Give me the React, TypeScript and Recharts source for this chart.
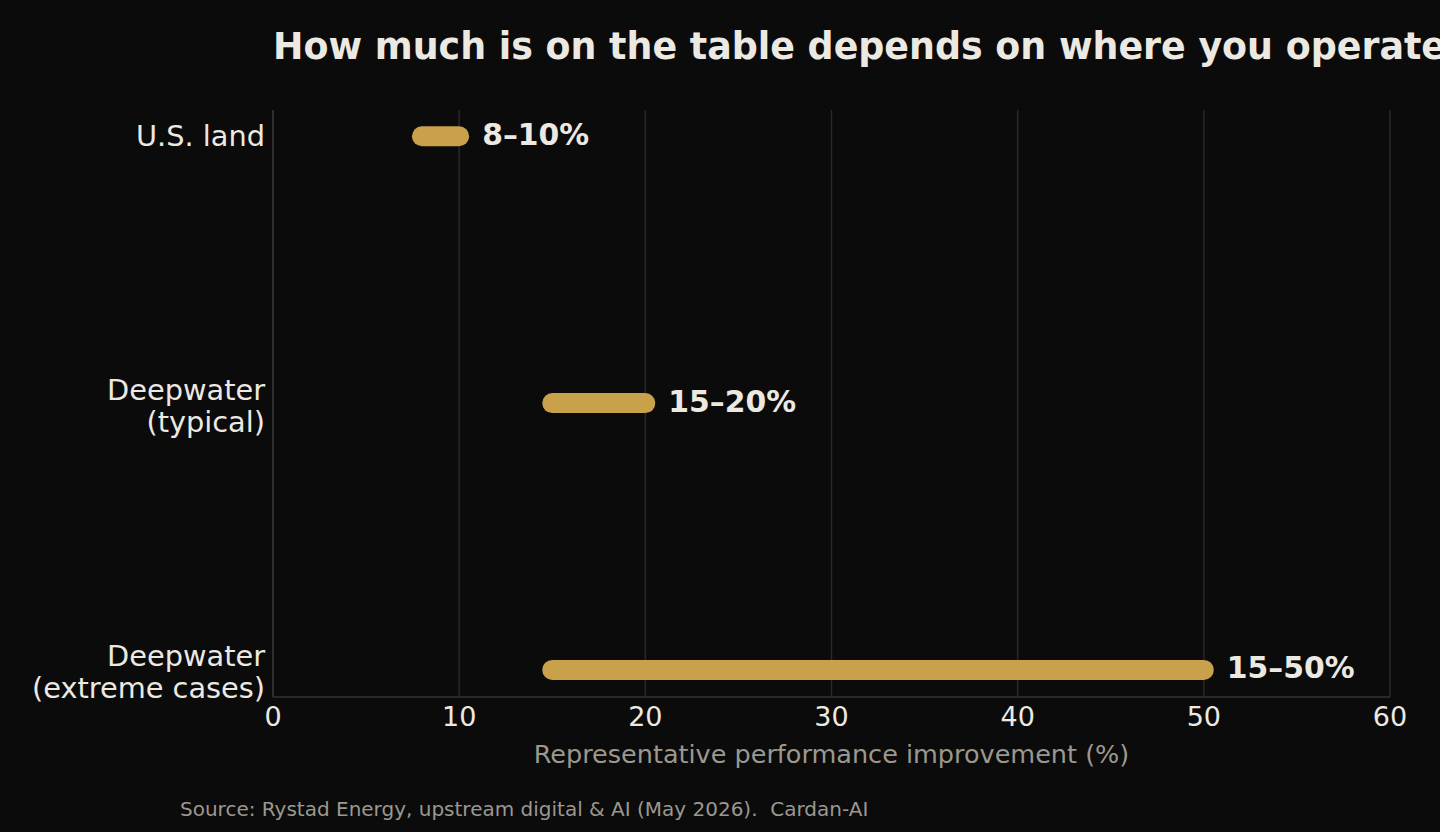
import { ComposedChart, Bar, XAxis, YAxis, CartesianGrid, LabelList } from 'recharts';

const categories = ['U.S. land', 'Deepwater\n(typical)', 'Deepwater\n(extreme cases)'];
const lowValues = [8, 15, 15];
const highValues = [10, 20, 50];
const rangeLabels = ['8–10%', '15–20%', '15–50%'];
const xTicks = [0, 10, 20, 30, 40, 50, 60];

const BG = '#0b0b0b';
const TEXT = '#ece9e2';
const DIM = '#9b988f';
const GOLD = '#c9a14b';
const GRID = '#2a2927';
const SPINE = '#35342e';

const data = categories.map((c, i) => ({
  pos: i,
  name: c,
  range: [lowValues[i], highValues[i]],
  label: rangeLabels[i],
}));

// bar with round caps that stick out past both ends, like a thick line
function RoundBar(props: any) {
  const { x, y, width, height } = props;
  const r = height / 2;
  return <rect x={x - r} y={y} width={width + 2 * r} height={height} rx={r} ry={r} fill={GOLD} />;
}

function RangeLabel(props: any) {
  const { x, y, width, height, value } = props;
  return (
    <text x={x + width + 23} y={y + height / 2 + 8.5} fill={TEXT} fontSize={29.8} fontWeight="bold">
      {value}
    </text>
  );
}

function CategoryTick(props: any) {
  const { x, y, payload } = props;
  const lines = String(categories[payload.value] ?? '').split('\n');
  const base = lines.length === 1 ? y + 9.5 : y - 4;
  return (
    <text x={x} y={base} textAnchor="end" fill={TEXT} fontSize={28.8}>
      {lines.map((l, i) => (
        <tspan key={i} x={x} y={base + i * 32}>
          {l}
        </tspan>
      ))}
    </text>
  );
}

export default function App() {
  return (
    <div
      style={{
        position: 'fixed',
        left: 0,
        top: 0,
        width: 1440,
        height: 832,
        background: BG,
        fontFamily: 'DejaVu Sans',
      }}
    >
      <ComposedChart
        width={1440}
        height={832}
        layout="vertical"
        data={data}
        margin={{ top: 110, right: 50, bottom: 0, left: 0 }}
      >
        <CartesianGrid horizontal={false} stroke={GRID} strokeWidth={1.5} />
        <XAxis
          type="number"
          domain={[0, 60]}
          ticks={xTicks}
          height={135}
          tickLine={false}
          tickSize={0}
          tickMargin={10}
          axisLine={{ stroke: SPINE, strokeWidth: 1.5 }}
          tick={{ fill: TEXT, fontSize: 27 }}
          label={{
            value: 'Representative performance improvement (%)',
            position: 'insideBottom',
            offset: 69,
            fill: DIM,
            fontSize: 25.5,
          }}
        />
        <YAxis
          type="number"
          dataKey="pos"
          domain={[-0.1, 2.1]}
          ticks={[0, 1, 2]}
          width={273}
          tickLine={false}
          tickSize={0}
          tickMargin={8}
          axisLine={{ stroke: SPINE, strokeWidth: 1.5 }}
          tick={<CategoryTick />}
        />
        <Bar dataKey="range" barSize={20} shape={<RoundBar />} isAnimationActive={false}>
          <LabelList dataKey="label" content={<RangeLabel />} />
        </Bar>
      </ComposedChart>
      <svg
        width={1440}
        height={832}
        style={{ position: 'absolute', left: 0, top: 0, pointerEvents: 'none' }}
      >
        <text x={273} y={59} fill={TEXT} fontSize={36.4} fontWeight="bold">
          How much is on the table depends on where you operate
        </text>
        <text x={180} y={816} fill={DIM} fontSize={20} style={{ whiteSpace: 'pre' }}>
          Source: Rystad Energy, upstream digital &amp; AI (May 2026).  Cardan-AI
        </text>
      </svg>
    </div>
  );
}
